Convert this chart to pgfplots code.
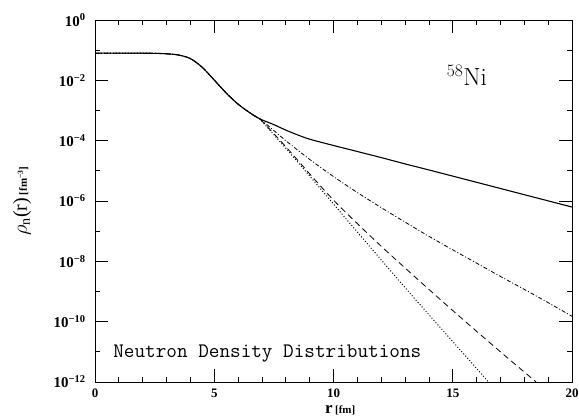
\documentclass[border=0pt]{standalone}
\usepackage{fontspec}
\setmainfont{Liberation Serif}
\usepackage{pgfplots}
\pgfplotsset{compat=1.18}
\begin{document}
\begin{tikzpicture}
\begin{axis}[
  at={(95bp,36bp)}, anchor=south west,
  scale only axis, width=477bp, height=362bp,
  xmin=0, xmax=20, ymode=log, ymin=1e-12, ymax=1,
  xtick={0,5,10,15,20},
  xticklabels={0,5,10,15,20},
  minor xtick={1,2,3,4,6,7,8,9,11,12,13,14,16,17,18,19},
  ytick={1e-12,1e-10,1e-8,1e-6,1e-4,1e-2,1},
  yticklabels={10\textsuperscript{−12},10\textsuperscript{−10},10\textsuperscript{−8},10\textsuperscript{−6},10\textsuperscript{−4},10\textsuperscript{−2},10\textsuperscript{0}},
  minor ytick={1e-11,1e-9,1e-7,1e-5,1e-3,1e-1},
  tick align=inside, major tick length=13bp, minor tick length=5bp,
  every tick/.style={black, line width=0.8pt},
  axis line style={line width=1pt},
  xticklabel style={font=\bfseries\fontsize{13}{15}\selectfont, yshift=-3bp},
  yticklabel style={font=\bfseries\fontsize{15}{17}\selectfont, xshift=-6bp},
  xlabel={{\bfseries\fontsize{17}{19}\selectfont r} {\bfseries\fontsize{11}{13}\selectfont [fm]}},
  xlabel style={at={(axis description cs:0.514,-0.077)}, anchor=center},
  ylabel={{\fontsize{20}{22}\selectfont$\rho$\textsubscript{n}(r)} {\bfseries\fontsize{11}{13}\selectfont [fm\textsuperscript{−3}]}},
  ylabel style={at={(axis description cs:-0.153,0.5)}, anchor=center},
  clip=true,
  every axis plot/.append style={smooth, tension=0.5},
]
% solid
\addplot[black, line width=1.1pt] coordinates {
(0,7.94e-2) (1,7.94e-2) (2,7.94e-2) (2.5,7.85e-2) (3,7.59e-2) (3.5,6.92e-2)
(4,5.25e-2) (4.5,2.69e-2) (5,1.02e-2) (5.5,3.80e-3) (6,1.62e-3) (6.5,8.32e-4)
(6.8,5.89e-4) (7,4.90e-4) (7.5,3.39e-4) (8,2.24e-4) (8.5,1.55e-4) (9,1.12e-4)
(10,6.92e-5) (11,4.37e-5) (12,2.75e-5) (13,1.70e-5) (14,1.07e-5) (16,4.17e-6)
(18,1.62e-6) (20,6.31e-7)
};
% dash-dot
\addplot[black, line width=0.8pt, dash pattern=on 4pt off 2pt on 1pt off 2pt] coordinates {
(0,7.94e-2) (1,7.94e-2) (2,7.94e-2) (2.5,7.85e-2) (3,7.59e-2) (3.5,6.92e-2)
(4,5.25e-2) (4.5,2.69e-2) (5,1.02e-2) (5.5,3.80e-3) (6,1.62e-3) (6.5,8.32e-4)
(6.8,5.89e-4) (7,4.68e-4) (8,1.0e-4) (9,2.40e-5) (10,6.46e-6) (11,1.905e-6)
(12,6.03e-7) (13,2.00e-7) (14,6.76e-8) (15,2.40e-8) (16,8.71e-9) (17,3.16e-9)
(18,1.175e-9) (19,4.27e-10) (20,1.51e-10)
};
% dashed
\addplot[black, line width=0.8pt, dash pattern=on 6pt off 4pt] coordinates {
(0,7.94e-2) (1,7.94e-2) (2,7.94e-2) (2.5,7.85e-2) (3,7.59e-2) (3.5,6.92e-2)
(4,5.25e-2) (4.5,2.69e-2) (5,1.02e-2) (5.5,3.80e-3) (6,1.62e-3) (6.5,8.32e-4)
(6.8,5.89e-4) (7,4.47e-4) (8,6.31e-5) (9,7.94e-6) (10,1.07e-6) (11,1.78e-7)
(12,3.16e-8) (13,6.03e-9) (14,1.175e-9) (15,2.34e-10) (16,4.79e-11) (17,1.0e-11)
(18,2.14e-12) (18.6,8.51e-13)
};
% dotted
\addplot[black, line width=1pt, dash pattern=on 1pt off 2pt] coordinates {
(0,7.94e-2) (1,7.94e-2) (2,7.94e-2) (2.5,7.85e-2) (3,7.59e-2) (3.5,6.92e-2)
(4,5.25e-2) (4.5,2.69e-2) (5,1.02e-2) (5.5,3.80e-3) (6,1.62e-3) (6.5,8.32e-4)
(6.8,5.89e-4) (7,4.37e-4) (8,5.62e-5) (9,6.76e-6) (10,7.94e-7) (11,9.33e-8)
(12,1.12e-8) (13,1.35e-9) (14,1.70e-10) (15,2.19e-11) (16,2.82e-12) (16.5,1.0e-12)
(16.6,8.1e-13)
};
\node[anchor=base west, inner sep=0pt, font=\ttfamily\fontsize{20.7}{22}\selectfont]
  at (axis description cs:0.038,0.069) {Neutron Density Distributions};
\node[anchor=base west, inner sep=0pt, font=\fontfamily{lmr}\selectfont\fontsize{25}{27}\selectfont]
  at (axis description cs:0.737,0.818) {\textsuperscript{58}Ni};
\end{axis}
\pgfresetboundingbox
\path (0,0) rectangle (579bp,418bp);
\end{tikzpicture}
\end{document}
